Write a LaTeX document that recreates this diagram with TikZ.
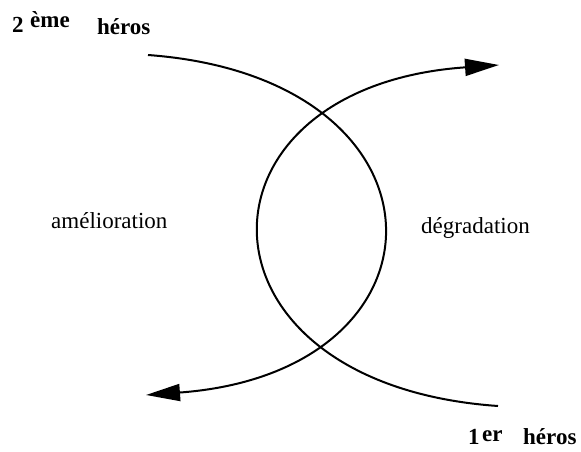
\documentclass[tikz,border=0pt]{standalone}
\usepackage{fontspec}
\setmainfont{Liberation Serif}
\usetikzlibrary{arrows.meta}

\begin{document}
\begin{tikzpicture}[
  x=1pt, y=-1pt,
  every node/.style={inner sep=0pt, anchor=base west, font=\fontsize{23}{27}\selectfont},
  hero/.style={font=\fontsize{23}{27}\selectfont\bfseries},
  arc/.style={line width=2pt, -{Triangle[length=34pt, width=17pt]}}
]
\useasboundingbox (0,0) rectangle (581,452);
% labels
\node[hero] (deux)    at (12,33)  {2};
\node[hero] (deuxexp) at (30,28)  {ème};
\node[hero] (herosB)  at (97,35)  {héros};
\node[hero] (un)      at (468,444) {1};
\node[hero] (unexp)   at (482,441) {er};
\node[hero] (herosA)  at (523,444) {héros};
\node (amelio) at (51,228)  {amélioration};
\node (degrad) at (421,233) {dégradation};
% the two arcs
\coordinate (debutB) at (148,55);
\coordinate (finB)   at (146,395);
\coordinate (debutA) at (498,406);
\coordinate (finA)   at (499,65);
\draw[arc] (debutB) .. controls (460,78) and (460,372) .. (finB);
\draw[arc] (debutA) .. controls (182,384) and (182,87) .. (finA);
\end{tikzpicture}
\end{document}
